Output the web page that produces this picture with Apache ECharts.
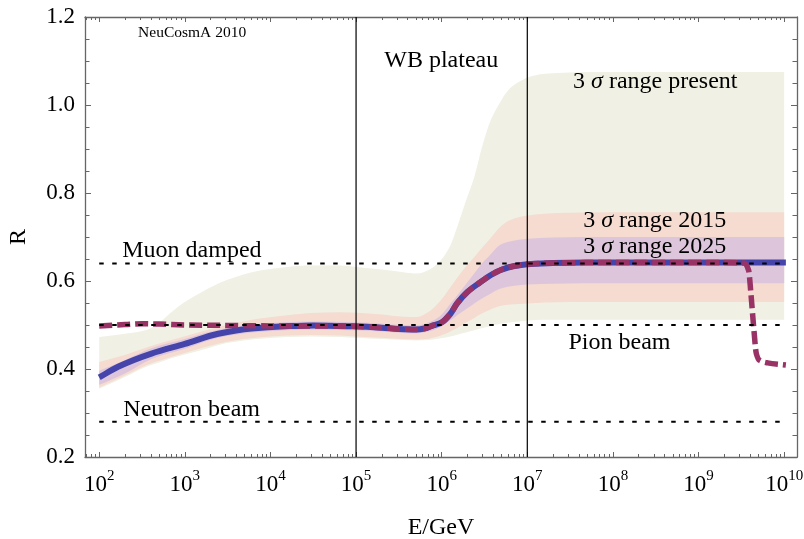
<!DOCTYPE html>
<html>
<head>
<meta charset="utf-8">
<script src="https://cdn.jsdelivr.net/npm/echarts@6/dist/echarts.min.js"></script>
<style>
  html, body { margin: 0; padding: 0; background: #fff; }
  #chart { width: 804px; height: 539px; }
</style>
</head>
<body>
<div id="chart"></div>
<script>
// All energies are stored as log10(E/GeV); the x axis works in that space.

// 3 sigma range, present data
const presentLogE = [2.0, 2.3, 2.57, 2.7, 2.85, 3.0, 3.2, 3.49, 3.88, 4.2, 4.47, 4.82, 5.0, 5.3, 5.55, 5.71, 5.85, 5.99, 6.1, 6.18, 6.28, 6.38, 6.48, 6.57, 6.68, 6.77, 6.9, 7.0, 7.2, 7.5, 8.0, 9.0, 10.0];
const presentHigh = [0.473, 0.480, 0.490, 0.505, 0.530, 0.552, 0.575, 0.602, 0.624, 0.632, 0.635, 0.635, 0.632, 0.626, 0.620, 0.617, 0.625, 0.647, 0.680, 0.722, 0.780, 0.836, 0.910, 0.964, 1.005, 1.032, 1.052, 1.062, 1.071, 1.074, 1.075, 1.075, 1.075];
const presentLow  = [0.355, 0.382, 0.407, 0.415, 0.425, 0.433, 0.443, 0.459, 0.469, 0.473, 0.474, 0.473, 0.471, 0.468, 0.466, 0.465, 0.466, 0.470, 0.474, 0.478, 0.483, 0.488, 0.493, 0.498, 0.502, 0.505, 0.508, 0.510, 0.512, 0.512, 0.512, 0.512, 0.512];

// 3 sigma range, 2015
const range2015LogE = [2.0, 2.3, 2.57, 2.89, 3.28, 3.49, 3.88, 4.2, 4.47, 4.82, 5.0, 5.3, 5.55, 5.71, 5.85, 5.99, 6.1, 6.18, 6.28, 6.38, 6.48, 6.57, 6.68, 6.77, 6.9, 7.0, 7.2, 7.5, 8.0, 9.0, 10.0];
const range2015High = [0.416, 0.432, 0.450, 0.468, 0.490, 0.500, 0.515, 0.522, 0.527, 0.529, 0.528, 0.524, 0.519, 0.518, 0.530, 0.556, 0.585, 0.607, 0.632, 0.654, 0.677, 0.697, 0.722, 0.736, 0.745, 0.749, 0.753, 0.755, 0.756, 0.756, 0.756];
const range2015Low  = [0.358, 0.385, 0.410, 0.430, 0.452, 0.462, 0.472, 0.476, 0.477, 0.476, 0.474, 0.471, 0.468, 0.467, 0.469, 0.476, 0.485, 0.493, 0.505, 0.516, 0.527, 0.535, 0.543, 0.546, 0.548, 0.549, 0.551, 0.552, 0.552, 0.552, 0.552];

// 3 sigma range, 2025
const range2025LogE = [2.0, 2.3, 2.61, 3.0, 3.39, 3.78, 4.17, 4.5, 4.96, 5.3, 5.55, 5.71, 5.9, 6.0, 6.1, 6.18, 6.3, 6.38, 6.45, 6.57, 6.69, 6.85, 7.0, 7.3, 8.0, 9.0, 10.0];
const range2025High = [0.396, 0.420, 0.447, 0.468, 0.489, 0.501, 0.506, 0.508, 0.506, 0.503, 0.500, 0.499, 0.510, 0.524, 0.548, 0.567, 0.597, 0.617, 0.635, 0.660, 0.683, 0.692, 0.696, 0.699, 0.700, 0.700, 0.700];
const range2025Low  = [0.364, 0.390, 0.423, 0.446, 0.471, 0.483, 0.488, 0.490, 0.488, 0.485, 0.482, 0.481, 0.488, 0.497, 0.510, 0.522, 0.538, 0.549, 0.558, 0.571, 0.583, 0.589, 0.592, 0.594, 0.595, 0.595, 0.595];

// Flavor ratio prediction (solid)
const solidLogE = [2.0, 2.22, 2.61, 3.0, 3.39, 3.78, 4.17, 4.5, 4.96, 5.3, 5.5, 5.71, 5.8, 5.9, 6.0, 6.1, 6.18, 6.3, 6.45, 6.57, 6.69, 6.85, 7.0, 7.3, 8.0, 9.0, 10.02];
const solidR    = [0.381, 0.405, 0.435, 0.457, 0.480, 0.492, 0.497, 0.499, 0.497, 0.494, 0.491, 0.490, 0.492, 0.499, 0.506, 0.525, 0.549, 0.575, 0.597, 0.613, 0.625, 0.634, 0.638, 0.641, 0.642, 0.642, 0.642];

// Flavor ratio prediction (dashed)
const dashedLogE = [2.0, 2.3, 2.5, 2.7, 3.0, 3.5, 4.0, 4.5, 4.96, 5.3, 5.5, 5.71, 5.8, 5.9, 6.0, 6.1, 6.18, 6.3, 6.45, 6.57, 6.69, 6.85, 7.0, 7.3, 8.0, 9.0, 9.534, 9.585, 9.612, 9.644, 9.675, 9.71, 9.807, 10.02];
const dashedR    = [0.498, 0.501, 0.503, 0.502, 0.500, 0.499, 0.498, 0.498, 0.497, 0.494, 0.491, 0.490, 0.492, 0.499, 0.506, 0.525, 0.549, 0.575, 0.597, 0.613, 0.625, 0.634, 0.638, 0.641, 0.642, 0.642, 0.641, 0.624, 0.571, 0.495, 0.435, 0.420, 0.414, 0.409];

// Reference source levels
const sourceLevels = [0.64, 0.5, 0.28];
const sourceLogERange = [2, 10];

// Region boundaries (log10 E)
const regionEdges = [5, 7];

// Axis ranges and tick labels
const xMin = 1.834, xMax = 10.15;
const yMin = 0.2, yMax = 1.2;
const decadeExponents = [2, 3, 4, 5, 6, 7, 8, 9, 10];

// Text annotations, anchored in data space
const annotations = [
  { text: 'NeuCosmA 2010', logE: 3.085, R: 1.164, size: 15.5 },
  { text: 'WB plateau', logE: 5.995, R: 1.101, size: 24 },
  { text: '{n|3 }{i|σ}{n| range present}', logE: 8.495, R: 1.052, size: 24 },
  { text: '{n|3 }{i|σ}{n| range 2015}', logE: 8.489, R: 0.737, size: 24 },
  { text: '{n|3 }{i|σ}{n| range 2025}', logE: 8.489, R: 0.678, size: 24 },
  { text: 'Muon damped', logE: 3.083, R: 0.669, size: 24 },
  { text: 'Pion beam', logE: 8.077, R: 0.460, size: 24 },
  { text: 'Neutron beam', logE: 3.080, R: 0.307, size: 24 }
];

const SERIF = "'Liberation Serif', 'Times New Roman', serif";
const FRAME = '#666666';

// Minor ticks at 2..9 times each decade
const minorTicks = [];
for (let n = 1; n <= 10; n++) {
  for (let k = 2; k <= 9; k++) {
    const v = n + Math.log10(k);
    if (v > xMin && v < xMax) minorTicks.push(v);
  }
}

// Monotone cubic (Fritsch-Carlson) through points ordered by x; returns bezier segments
function monotoneSegments(pts) {
  const n = pts.length;
  const d = [], m = new Array(n);
  for (let i = 0; i < n - 1; i++) {
    d.push((pts[i + 1][1] - pts[i][1]) / (pts[i + 1][0] - pts[i][0]));
  }
  m[0] = d[0];
  m[n - 1] = d[n - 2];
  for (let i = 1; i < n - 1; i++) {
    if (d[i - 1] * d[i] <= 0) { m[i] = 0; continue; }
    const h0 = pts[i][0] - pts[i - 1][0], h1 = pts[i + 1][0] - pts[i][0];
    const w1 = 2 * h1 + h0, w2 = h1 + 2 * h0;
    m[i] = (w1 + w2) / (w1 / d[i - 1] + w2 / d[i]);
  }
  const segs = [];
  for (let i = 0; i < n - 1; i++) {
    const h = pts[i + 1][0] - pts[i][0];
    segs.push([
      [pts[i][0] + h / 3, pts[i][1] + m[i] * h / 3],
      [pts[i + 1][0] - h / 3, pts[i + 1][1] - m[i + 1] * h / 3],
      pts[i + 1]
    ]);
  }
  return segs;
}

const fmt = p => p[0].toFixed(2) + ',' + p[1].toFixed(2);

// Path commands for a curve running left to right
function forwardPath(pts, cmd) {
  let s = cmd + fmt(pts[0]);
  monotoneSegments(pts).forEach(c => { s += 'C' + c.map(fmt).join(' '); });
  return s;
}

// Same curve traced right to left (segments reversed, control points swapped)
function backwardPath(pts, cmd) {
  const segs = monotoneSegments(pts);
  let s = cmd + fmt(pts[pts.length - 1]);
  for (let i = segs.length - 1; i >= 0; i--) {
    s += 'C' + [segs[i][1], segs[i][0], pts[i]].map(fmt).join(' ');
  }
  return s;
}

// Shaded band between a lower and an upper curve
function bandSeries(xs, lo, hi, color) {
  return {
    type: 'custom', silent: true, z: 1,
    data: [[xs[0], lo[0]]],
    renderItem: (params, api) => {
      const top = xs.map((x, i) => api.coord([x, hi[i]]));
      const bottom = xs.map((x, i) => api.coord([x, lo[i]]));
      const d = forwardPath(top, 'M') + backwardPath(bottom, 'L') + 'Z';
      return { type: 'path', shape: { pathData: d }, style: { fill: color, stroke: null } };
    }
  };
}

function curveSeries(xs, ys, style, z) {
  return {
    type: 'custom', silent: true, z: z,
    data: [[xs[0], ys[0]]],
    renderItem: (params, api) => {
      const pts = xs.map((x, i) => api.coord([x, ys[i]]));
      return {
        type: 'path', shape: { pathData: forwardPath(pts, 'M') },
        style: Object.assign({ fill: null }, style)
      };
    }
  };
}

const series = [
  bandSeries(presentLogE, presentLow, presentHigh, '#F0F0E4'),
  bandSeries(range2015LogE, range2015Low, range2015High, '#F5DBD0'),
  bandSeries(range2025LogE, range2025Low, range2025High, '#DDC6DB'),
  curveSeries(solidLogE, solidR, { stroke: '#4444AA', lineWidth: 6 }, 3),
  curveSeries(dashedLogE, dashedR, { stroke: '#993366', lineWidth: 5.5, lineDash: [13, 5] }, 4),
  ...sourceLevels.map(level => ({
    type: 'line', data: sourceLogERange.map(x => [x, level]), symbol: 'none', silent: true,
    lineStyle: { color: '#000', width: 2, type: [4.5, 8.5] }, z: 5
  })),
  ...regionEdges.map(edge => ({
    type: 'line', data: [[edge, yMin], [edge, yMax]], symbol: 'none', silent: true,
    lineStyle: { color: '#000', width: 1.2 }, z: 5
  }))
];

function xAxisBase(position) {
  return {
    type: 'value', min: xMin, max: xMax, position: position,
    axisLine: { show: false, onZero: false },
    splitLine: { show: false },
    axisLabel: { show: false },
    axisTick: { show: false }
  };
}

const tickStyle = { color: FRAME, width: 1 };

const xAxes = [
  Object.assign(xAxisBase('bottom'), {
    axisLine: { show: true, onZero: false, lineStyle: { color: FRAME, width: 1.3 } },
    axisTick: { show: true, inside: true, length: 5, customValues: decadeExponents, lineStyle: tickStyle },
    axisLabel: {
      show: true, customValues: decadeExponents, margin: 12,
      formatter: v => '{b|10}{s|' + Math.round(v) + '}',
      rich: {
        b: { fontFamily: SERIF, fontSize: 23, color: '#000', lineHeight: 27, verticalAlign: 'bottom' },
        s: { fontFamily: SERIF, fontSize: 15, color: '#000', lineHeight: 15, verticalAlign: 'top' }
      }
    },
    name: 'E/GeV', nameLocation: 'middle', nameGap: 59,
    nameTextStyle: { fontFamily: SERIF, fontSize: 24, color: '#000' }
  }),
  Object.assign(xAxisBase('bottom'), {
    axisTick: { show: true, inside: true, length: 3, customValues: minorTicks, lineStyle: tickStyle }
  }),
  Object.assign(xAxisBase('top'), {
    axisLine: { show: true, onZero: false, lineStyle: { color: FRAME, width: 1.3 } },
    axisTick: { show: true, inside: true, length: 5, customValues: decadeExponents, lineStyle: tickStyle }
  }),
  Object.assign(xAxisBase('top'), {
    axisTick: { show: true, inside: true, length: 3, customValues: minorTicks, lineStyle: tickStyle }
  })
];

function yAxis(position, labelled) {
  const axis = {
    type: 'value', min: yMin, max: yMax, interval: 0.2, position: position,
    axisLine: { show: true, onZero: false, lineStyle: { color: FRAME, width: 1.3 } },
    axisTick: { show: true, inside: true, length: 6, lineStyle: tickStyle },
    minorTick: { show: true, splitNumber: 4, length: 4.5, lineStyle: tickStyle },
    splitLine: { show: false },
    minorSplitLine: { show: false },
    axisLabel: {
      show: labelled, margin: 10, fontFamily: SERIF, fontSize: 23, color: '#000',
      formatter: v => v.toFixed(1)
    }
  };
  if (labelled) {
    axis.name = 'R';
    axis.nameLocation = 'middle';
    axis.nameGap = 54;
    axis.nameTextStyle = { fontFamily: SERIF, fontSize: 24, color: '#000' };
  }
  return axis;
}

const chart = echarts.init(document.getElementById('chart'), null, { renderer: 'canvas' });
chart.setOption({
  animation: false,
  backgroundColor: '#fff',
  grid: { left: 85, right: 7, top: 17, bottom: 82, containLabel: false, outerBoundsMode: 'none' },
  xAxis: xAxes,
  yAxis: [yAxis('left', true), yAxis('right', false)],
  series: series.map(s => Object.assign({ xAxisIndex: 0, yAxisIndex: 0 }, s))
});

// Place the annotation texts at their data-space anchors
const graphic = annotations.map(a => {
  const p = chart.convertToPixel({ gridIndex: 0 }, [a.logE, a.R]);
  return {
    type: 'text', x: p[0], y: p[1], z: 100, silent: true,
    style: {
      text: a.text,
      fontFamily: SERIF, fontSize: a.size, fill: '#000',
      align: 'center', verticalAlign: 'middle',
      textAlign: 'center', textVerticalAlign: 'middle',
      rich: {
        n: { fontFamily: SERIF, fontSize: a.size, fill: '#000', color: '#000' },
        i: { fontFamily: SERIF, fontSize: a.size, fontStyle: 'italic', fill: '#000', color: '#000' }
      }
    }
  };
});
chart.setOption({ graphic: graphic });
</script>
</body>
</html>
